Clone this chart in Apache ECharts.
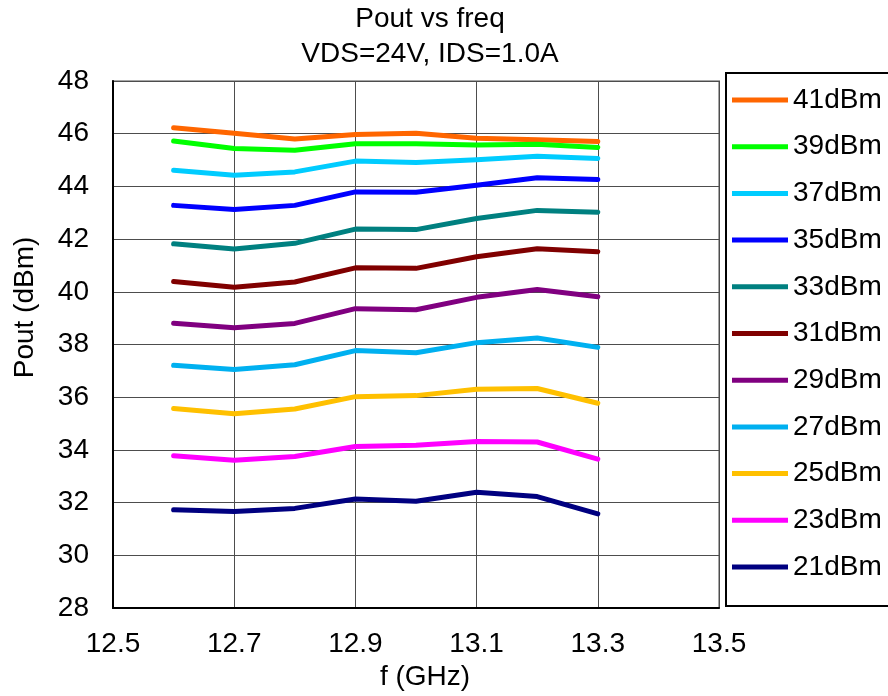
<!DOCTYPE html>
<html lang="en">
  <head>
    <meta charset="UTF-8" />
    <title>Pout vs freq</title>
    <script src="https://cdn.jsdelivr.net/npm/echarts@6/dist/echarts.min.js"></script>
    <style>
      html, body { margin: 0; padding: 0; background: #fff; }
      #chart { width: 888px; height: 696px; }
    </style>
  </head>
  <body>
    <div id="chart"></div>
    <script>
      // frequency points (GHz)
      let freq = [12.6, 12.7, 12.8, 12.9, 13.0, 13.1, 13.2, 13.3]
      // x tick labels
      let xTicks = [12.5, 12.7, 12.9, 13.1, 13.3, 13.5]

      // Pout (dBm) for each input drive level
      let pin41 = [46.23, 46.02, 45.80, 45.97, 46.02, 45.83, 45.77, 45.70]
      let pin39 = [45.72, 45.44, 45.37, 45.62, 45.62, 45.57, 45.60, 45.48]
      let pin37 = [44.61, 44.42, 44.55, 44.96, 44.91, 45.01, 45.14, 45.06]
      let pin35 = [43.28, 43.12, 43.28, 43.79, 43.78, 44.04, 44.33, 44.26]
      let pin33 = [41.82, 41.62, 41.84, 42.38, 42.36, 42.78, 43.09, 43.02]
      let pin31 = [40.39, 40.17, 40.37, 40.91, 40.89, 41.33, 41.63, 41.52]
      let pin29 = [38.81, 38.64, 38.80, 39.36, 39.32, 39.79, 40.09, 39.81]
      let pin27 = [37.21, 37.05, 37.23, 37.77, 37.69, 38.07, 38.25, 37.89]
      let pin25 = [35.57, 35.37, 35.55, 36.02, 36.06, 36.30, 36.33, 35.77]
      let pin23 = [33.78, 33.61, 33.75, 34.13, 34.18, 34.32, 34.30, 33.65]
      let pin21 = [31.73, 31.66, 31.78, 32.14, 32.05, 32.39, 32.23, 31.57]

      let names = ['41dBm', '39dBm', '37dBm', '35dBm', '33dBm', '31dBm', '29dBm', '27dBm', '25dBm', '23dBm', '21dBm']
      let values = [pin41, pin39, pin37, pin35, pin33, pin31, pin29, pin27, pin25, pin23, pin21]

      let colors = ['#FF6600', '#00FF00', '#00CCFF', '#0000FF', '#008080', '#800000',
        '#800080', '#00B0F0', '#FFC000', '#FF00FF', '#000080']

      let font = "'Liberation Sans', Arial, sans-serif"

      let series = names.map((name, i) => ({
        name: name,
        type: 'line',
        symbol: 'none',
        animation: false,
        color: colors[i],
        lineStyle: { width: 5, color: colors[i], cap: 'round', join: 'round' },
        data: freq.map((f, j) => [f, values[i][j]])
      }))

      let option = {
        backgroundColor: '#fff',
        textStyle: { fontFamily: font },
        title: {
          text: 'Pout vs freq\nVDS=24V, IDS=1.0A',
          left: 430,
          top: 2,
          padding: 0,
          textAlign: 'center',
          textStyle: {
            fontFamily: font,
            fontSize: 28,
            fontWeight: 'normal',
            color: '#000',
            lineHeight: 35
          }
        },
        legend: {
          orient: 'vertical',
          left: 726,
          top: 73,
          padding: [12, 24, 24, 6],
          itemGap: 16.7,
          itemWidth: 56,
          itemHeight: 12,
          itemTextGap: 4,
          borderColor: '#000',
          borderWidth: 2,
          borderRadius: 0,
          icon: 'path://M0,0 L56,0 L56,5 L0,5 Z',
          textStyle: { fontFamily: font, fontSize: 28, color: '#000', lineHeight: 30 },
          data: names
        },
        grid: {
          left: 113,
          right: 169,
          top: 81,
          bottom: 88,
          show: true,
          borderColor: '#A6A6A6',
          borderWidth: 2
        },
        xAxis: {
          type: 'value',
          min: 12.5,
          max: 13.5,
          name: 'f (GHz)',
          nameLocation: 'middle',
          nameGap: 54,
          nameTextStyle: { fontFamily: font, fontSize: 28, color: '#000', padding: [0, 0, 0, 18] },
          axisLine: { lineStyle: { color: '#000', width: 2 } },
          axisTick: { show: false, customValues: xTicks },
          axisLabel: {
            customValues: xTicks,
            margin: 22,
            fontFamily: font,
            fontSize: 28,
            color: '#000',
            formatter: v => v.toFixed(1)
          },
          splitLine: { show: true, lineStyle: { color: '#4d4d4d', width: 1 } }
        },
        yAxis: {
          type: 'value',
          min: 28,
          max: 48,
          interval: 2,
          name: 'Pout (dBm)',
          nameLocation: 'middle',
          nameGap: 74,
          nameRotate: 90,
          nameTextStyle: { fontFamily: font, fontSize: 28, color: '#000', padding: [0, 0, 0, 74] },
          axisLine: { show: true, lineStyle: { color: '#000', width: 2 } },
          axisTick: { show: false },
          axisLabel: { margin: 24, fontFamily: font, fontSize: 28, color: '#000' },
          splitLine: { show: true, lineStyle: { color: '#4d4d4d', width: 1 } }
        },
        series: series
      }

      echarts.init(document.getElementById('chart')).setOption(option)
    </script>
  </body>
</html>
